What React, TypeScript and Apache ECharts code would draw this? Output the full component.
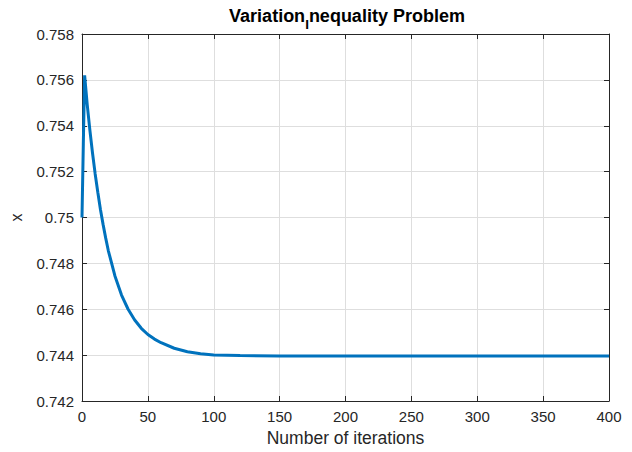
import React, { useEffect, useRef } from "react";
import * as echarts from "echarts";

const iterations = [0, 1, 2, 4, 6, 8, 10, 12, 14, 16, 18, 20, 25, 30, 35, 40, 45, 50, 55, 60, 70, 80, 90, 100, 120, 150, 200, 250, 300, 350, 400];
const xValues = [0.75, 0.7532, 0.7562, 0.7549, 0.7538, 0.7528, 0.7519, 0.7511, 0.75035, 0.7497, 0.7491, 0.74855, 0.74745, 0.74662, 0.746, 0.74553, 0.74517, 0.7449, 0.7447, 0.74454, 0.7443, 0.74415, 0.74406, 0.74401, 0.74398, 0.74396, 0.74396, 0.74396, 0.74396, 0.74396, 0.74396];
const xTicks = { min: 0, max: 400, interval: 50 };
const yTicks = { min: 0.742, max: 0.758, interval: 0.002 };

const FONT = "Liberation Sans, Arial, Helvetica, sans-serif";
const AXIS = "#262626";
const GRID = "#dedede";

export default function App() {
  const ref = useRef<HTMLDivElement>(null);
  useEffect(() => {
    if (!ref.current) return;
    const chart = echarts.init(ref.current, undefined, { renderer: "svg" });
    const data = iterations.map((it, i) => [it, xValues[i]]);
    const yFmt = (v: number) => String(parseFloat(v.toFixed(3)));
    chart.setOption({
      animation: false,
      backgroundColor: "#ffffff",
      textStyle: { fontFamily: FONT },
      title: {
        text: "{a|Variation}{s|I}{a|nequality Problem}",
        left: 347,
        top: 6,
        padding: 0,
        textAlign: "center",
        textStyle: {
          rich: {
            a: { fontFamily: FONT, fontSize: 18, fontWeight: "bold", color: "#000", lineHeight: 20 },
            s: { fontFamily: FONT, fontSize: 13.5, fontWeight: "bold", color: "#000", lineHeight: 20, padding: [17, 0, 0, 0] },
          },
        },
      },
      grid: { left: 82, right: 23, top: 34, bottom: 45, containLabel: false },
      xAxis: [
        {
          type: "value",
          min: xTicks.min,
          max: xTicks.max,
          interval: xTicks.interval,
          position: "bottom",
          name: "Number of iterations",
          nameLocation: "middle",
          nameGap: 28,
          nameTextStyle: { fontFamily: FONT, fontSize: 17.5, color: AXIS },
          axisLine: { show: true, onZero: false, lineStyle: { color: AXIS, width: 1 } },
          axisTick: { show: true, inside: true, length: 5, lineStyle: { color: AXIS } },
          axisLabel: { fontFamily: FONT, fontSize: 15, color: AXIS, margin: 8 },
          splitLine: { show: true, lineStyle: { color: GRID, width: 1 } },
        },
        {
          type: "value",
          min: xTicks.min,
          max: xTicks.max,
          interval: xTicks.interval,
          position: "top",
          axisLine: { show: true, onZero: false, lineStyle: { color: AXIS, width: 1 } },
          axisTick: { show: true, inside: true, length: 5, lineStyle: { color: AXIS } },
          axisLabel: { show: false },
          splitLine: { show: false },
        },
      ],
      yAxis: [
        {
          type: "value",
          min: yTicks.min,
          max: yTicks.max,
          interval: yTicks.interval,
          position: "left",
          name: "x",
          nameLocation: "middle",
          nameGap: 58,
          nameTextStyle: { fontFamily: FONT, fontSize: 16, color: AXIS },
          axisLine: { show: true, onZero: false, lineStyle: { color: AXIS, width: 1 } },
          axisTick: { show: true, inside: true, length: 5, lineStyle: { color: AXIS } },
          axisLabel: { fontFamily: FONT, fontSize: 15, color: AXIS, margin: 8, formatter: yFmt, padding: [5, 0, 0, 0] },
          splitLine: { show: true, lineStyle: { color: GRID, width: 1 } },
        },
        {
          type: "value",
          min: yTicks.min,
          max: yTicks.max,
          interval: yTicks.interval,
          position: "right",
          axisLine: { show: true, onZero: false, lineStyle: { color: AXIS, width: 1 } },
          axisTick: { show: true, inside: true, length: 5, lineStyle: { color: AXIS } },
          axisLabel: { show: false },
          splitLine: { show: false },
        },
      ],
      series: [
        {
          type: "line",
          xAxisIndex: 0,
          yAxisIndex: 0,
          data,
          smooth: false,
          showSymbol: false,
          lineStyle: { color: "#0072BD", width: 3 },
          z: 3,
        },
      ],
    });
    return () => chart.dispose();
  }, []);
  return <div ref={ref} style={{ width: 632, height: 452, position: "absolute", left: 0, top: 0 }} />;
}
